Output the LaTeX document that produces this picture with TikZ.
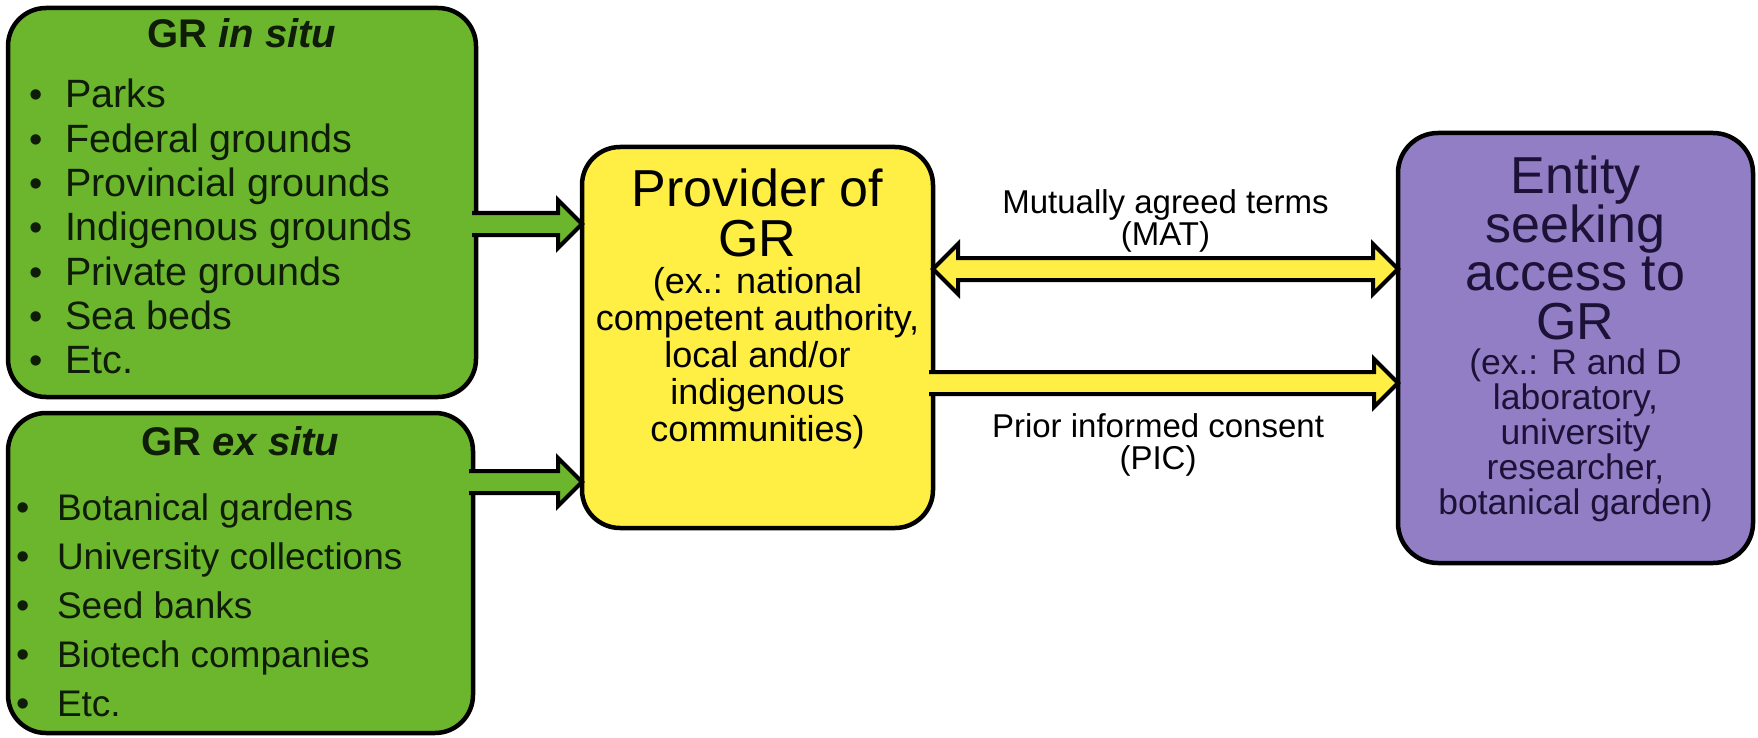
\documentclass[tikz,border=0pt]{standalone}
\usepackage{fontspec}
\setmainfont{Liberation Sans}
\usetikzlibrary{shapes.arrows,positioning}
\definecolor{grgreen}{RGB}{108,182,46}
\definecolor{gryellow}{RGB}{255,238,68}
\definecolor{grpurple}{RGB}{146,126,196}
\definecolor{gink}{RGB}{14,28,8}
\definecolor{pink}{RGB}{28,18,56}

\begin{document}
\begin{tikzpicture}[x=1pt,y=-1pt, line width=4pt
  ]
\useasboundingbox[fill=white] (0,0) rectangle (1758,738);
% Block and text styles
\tikzstyle{set}=[draw=black, line width=4.5pt, outer sep=0pt, inner sep=0pt, rounded corners=38pt]
\tikzstyle{gset}=[set, fill=grgreen]
\tikzstyle{yset}=[set, fill=gryellow]
\tikzstyle{pset}=[set, fill=grpurple, rounded corners=40pt]
\tikzstyle{gtitle}=[text=gink, inner sep=0pt, anchor=north, font=\fontsize{40}{44}\selectfont\bfseries]
\tikzstyle{gitem}=[text=gink, inner sep=0pt, anchor=base west, font=\fontsize{39.5}{44}\selectfont]
\tikzstyle{gdot}=[text=gink, inner sep=0pt, anchor=base, font=\fontsize{38}{44}\selectfont]
\tikzstyle{ytitle}=[inner sep=0pt, anchor=north, align=center, font=\fontsize{52}{50}\selectfont]
\tikzstyle{ysub}=[inner sep=0pt, anchor=north, align=center, font=\fontsize{36}{37}\selectfont]
\tikzstyle{ptitle}=[text=pink, inner sep=0pt, anchor=north, align=center, font=\fontsize{52}{48.5}\selectfont]
\tikzstyle{psub}=[text=pink, inner sep=0pt, anchor=north, align=center, font=\fontsize{35.5}{35}\selectfont]
\tikzstyle{lbl}=[inner sep=0pt, anchor=north, align=center, font=\fontsize{33}{31.5}\selectfont]
% Arrow styles
\tikzstyle{arrow}=[single arrow, anchor=west, outer sep=0pt, inner xsep=0pt, inner ysep=9pt, single arrow head extend=13pt, shape border rotate=0]
\tikzstyle{darrow}=[double arrow, draw=black, anchor=west, outer sep=0pt, inner xsep=0pt, inner ysep=9pt, double arrow head extend=14pt, shape border rotate=0]

% Blocks
\node[gset, minimum width=468pt, minimum height=389pt] (insitu) at (242,202.5) {};
\node[gset, minimum width=465pt, minimum height=320pt] (exsitu) at (240.5,573) {};
\node[yset, minimum width=351pt, minimum height=381pt] (prov) at (757.5,337.5) {};
\node[pset, minimum width=355pt, minimum height=430pt] (entity) at (1575.5,348) {};

% Green lists
\node[gtitle] (insitut) at ([yshift=-9pt]insitu.north) {GR \textit{in situ}};
\foreach \t [count=\i] in {Parks,Federal grounds,Provincial grounds,Indigenous grounds,Private grounds,Sea beds,Etc.}{
  \node[gdot] (ind\i) at (36,{108+44.3*(\i-1)}) {•};
  \node[gitem] (in\i) at (63,{108+44.3*(\i-1)}) {\t};
}
\node[gtitle] (exsitut) at ([yshift=-12pt]exsitu.north) {GR \textit{ex situ}};
\foreach \t [count=\i] in {Botanical gardens,University collections,Seed banks,Biotech companies,Etc.}{
  \node[gdot] (exd\i) at (23,{520+49*(\i-1)}) {•};
  \node[gitem, font=\fontsize{37}{44}\selectfont] (ex\i) at (55,{520+49*(\i-1)}) {\t};
}

% Provider and entity texts
\node[ytitle] (provt) at ([yshift=-20pt]prov.north) {Provider of\\GR};
\node[ysub] (provs) at ([yshift=-118pt]prov.north) {(ex.: national\\competent authority,\\local and/or\\indigenous\\communities)};
\node[ptitle] (entt) at ([yshift=-21pt]entity.north) {Entity\\seeking\\access to\\GR};
\node[psub] (ents) at ([yshift=-214pt]entity.north) {(ex.: R and D\\laboratory,\\university\\researcher,\\botanical garden)};

% Arrows
\node[arrow, fill=grgreen, minimum height=110pt] (ar1) at ([xshift=-4pt,yshift=-21.5pt]insitu.east) {};
\node[arrow, fill=grgreen, minimum height=113pt] (ar2) at ([xshift=-4pt,yshift=91pt]exsitu.east) {};
\node[arrow, fill=gryellow, minimum height=469pt] (ar3) at ([xshift=-4pt,yshift=-45.5pt]prov.east) {};
\node[darrow, fill=gryellow, minimum height=465pt] (ar4) at ([yshift=68.5pt]prov.east) {};

\foreach \i in {1,2,3}
\draw[black, line width=4pt] (ar\i.after tail)--(ar\i.before head)--(ar\i.before tip)--(ar\i.tip)--(ar\i.after tip)--(ar\i.after head)--(ar\i.before tail);

% Arrow labels
\node[lbl] (mat) at ([yshift=81pt]ar4.center) {Mutually agreed terms\\(MAT)};
\node[lbl] (pic) at ([yshift=-29pt]ar3.center) {Prior informed consent\\(PIC)};
%---------------------
\end{tikzpicture}
\end{document}
